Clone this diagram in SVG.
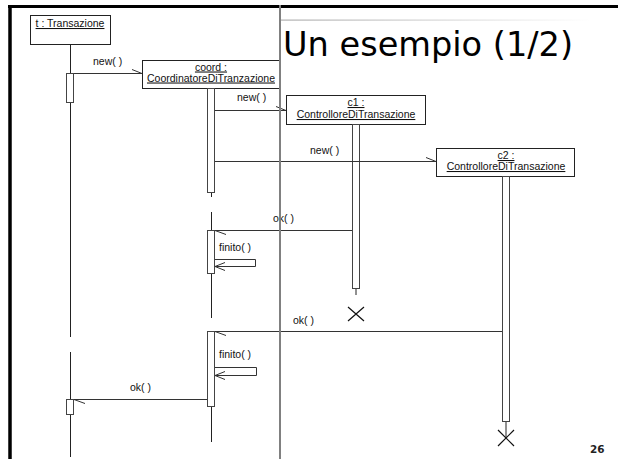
<svg xmlns="http://www.w3.org/2000/svg" width="618" height="459" viewBox="0 0 618 459">
<defs>
<linearGradient id="fade" x1="0" y1="0" x2="1" y2="0">
<stop offset="0" stop-color="#b0b0b0"/>
<stop offset="1" stop-color="#ffffff"/>
</linearGradient>
</defs>
<style>
.box{fill:#fff;stroke:#222;stroke-width:1}
.life{stroke:#222;stroke-width:1;fill:none}
.act{fill:#fff;stroke:#444;stroke-width:1}
.msg{stroke:#333;stroke-width:1;fill:none}
.x{stroke:#111;stroke-width:1.2;fill:none}
.lbl{font-family:"Liberation Sans",Arial,sans-serif;font-size:10.5px;fill:#111}
.name{text-anchor:middle;text-decoration:underline}
</style>
<rect x="0" y="0" width="618" height="459" fill="#fff"/>
<!-- slide frame -->
<line x1="8" y1="6.5" x2="618" y2="6.5" stroke="#000" stroke-width="3"/>
<line x1="10" y1="5" x2="10" y2="459" stroke="#000" stroke-width="3.5"/>
<rect x="281" y="19.5" width="310" height="1.2" fill="url(#fade)"/>

<g id="t">
<rect class="box" x="30.5" y="15.5" width="80" height="29"/>
<text class="lbl name" x="70" y="27">t : Transazione</text>
<path class="life" d="M70.5,44.5V73.5M70.5,103V337M70.5,352V399.5M70.5,415V457"/>
<rect class="act" x="66.5" y="73.5" width="7" height="29"/>
<rect class="act" x="66.5" y="399.5" width="7" height="15"/>
</g>

<g id="coord">
<rect class="box" x="142.5" y="60.5" width="137" height="28"/>
<text class="lbl name" x="211" y="70.5">coord :</text>
<text class="lbl name" x="211" y="81.5">CoordinatoreDiTranzazione</text>
<path class="life" d="M211.5,192V197M211.5,212V230.5M211.5,274V318M211.5,406V442"/>
<rect class="act" x="207.5" y="88.5" width="7" height="104"/>
<rect class="act" x="207.5" y="230.5" width="7" height="43"/>
<rect class="act" x="207.5" y="331.5" width="7" height="75"/>
</g>

<g id="c1">
<rect class="box" x="286.5" y="95.5" width="139" height="29"/>
<text class="lbl name" x="356" y="106">c1 :</text>
<text class="lbl name" x="356" y="118">ControlloreDiTransazione</text>
<path class="life" d="M356,288.5V295"/>
<rect class="act" x="352.5" y="124.5" width="7" height="164"/>
<path class="x" d="M348,307L364,321M364,307L348,321"/>
</g>

<g id="c2">
<rect class="box" x="436.5" y="148.5" width="138" height="28"/>
<text class="lbl name" x="506" y="159">c2 :</text>
<text class="lbl name" x="506" y="170">ControlloreDiTransazione</text>
<path class="life" d="M506,421.5V438"/>
<rect class="act" x="502.5" y="176.5" width="7" height="245"/>
<path class="x" d="M498,430L514,446M514,430L498,446"/>
</g>

<g id="connectors">
<path class="msg" d="M74,73.5H142M132,69.5L142,73.5"/>
<text class="lbl" x="93" y="65">new( )</text>
<path class="msg" d="M215,110.5H286M276,106.5L286,110.5"/>
<text class="lbl" x="237" y="101">new( )</text>
<path class="msg" d="M215,161.5H436M426,157.5L436,161.5"/>
<text class="lbl" x="310" y="154">new( )</text>
<path class="msg" d="M352,230.5H215M215,230.5L226,234.5"/>
<text class="lbl" x="273" y="222">ok( )</text>
<path class="msg" d="M215,259.5H255.5V266.5H215M225,262.5L215,266.5L225,270.5"/>
<text class="lbl" x="219" y="251">finito( )</text>
<path class="msg" d="M502,331.5H215M215,331.5L226,335.5"/>
<text class="lbl" x="293" y="324">ok( )</text>
<path class="msg" d="M215,367.5H256.5V375.5H215M225,371.5L215,375.5L225,379.5"/>
<text class="lbl" x="219" y="358">finito( )</text>
<path class="msg" d="M207,399.5H74M74,399.5L85,403.5"/>
<text class="lbl" x="130" y="391">ok( )</text>
</g>

<line x1="280" y1="5" x2="280" y2="459" stroke="#808080" stroke-width="2"/>
<text x="283" y="56" font-family="DejaVu Sans, sans-serif" font-size="34" textLength="290" lengthAdjust="spacingAndGlyphs" fill="#000">Un esempio (1/2)</text>
<text x="590" y="453" font-family="DejaVu Sans, sans-serif" font-size="10.5" font-weight="bold" fill="#222">26</text>
</svg>
